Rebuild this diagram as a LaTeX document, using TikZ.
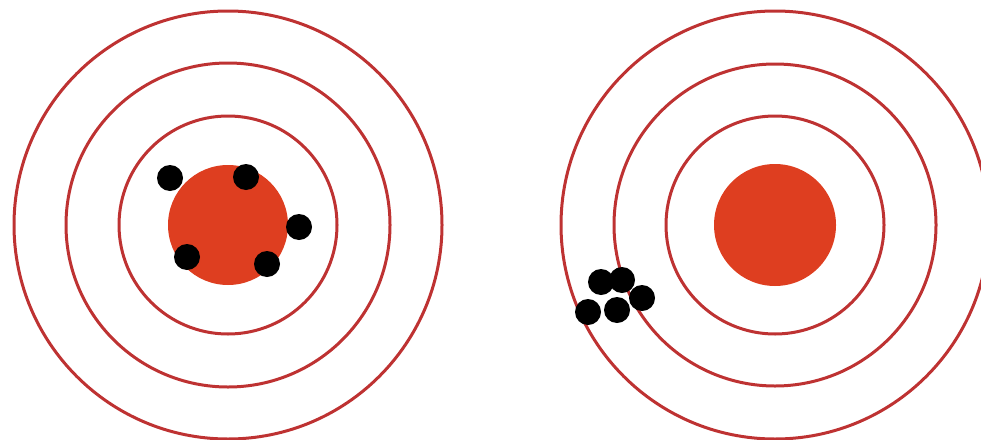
\documentclass[tikz,border=0pt]{standalone}
\usepackage{tikz}
\definecolor{ringred}{RGB}{190,50,50}
\definecolor{bullred}{RGB}{222,62,32}
\tikzset{
    ring/.style={draw=ringred, line width=3pt},
    bull/.style={fill=bullred},
    shot/.style={fill=black}
}

\begin{document}
\begin{tikzpicture}[x=1pt, y=-1pt]
    \clip (0,0) rectangle (981,439);
    \useasboundingbox (0,0) rectangle (981,439);

    % Left target: accurate and precise
    \coordinate (leftc) at (228,225);
    \foreach \r in {214,162,109}
        \draw[ring] (leftc) circle (\r);
    \fill[bull] (leftc) circle (60);

    % Left shots
    \foreach \x/\y in {170/178, 246/177, 299/227, 187/257, 267/264}
        \fill[shot] (\x,\y) circle (13);

    % Right target: precise but not accurate
    \coordinate (rightc) at (775,225);
    \foreach \r in {214,161,109}
        \draw[ring] (rightc) circle (\r);
    \fill[bull] (rightc) circle (61);

    % Right shots
    \foreach \x/\y in {601/282, 622/280, 642/298, 617/310, 588/312}
        \fill[shot] (\x,\y) circle (13);
\end{tikzpicture}
\end{document}
